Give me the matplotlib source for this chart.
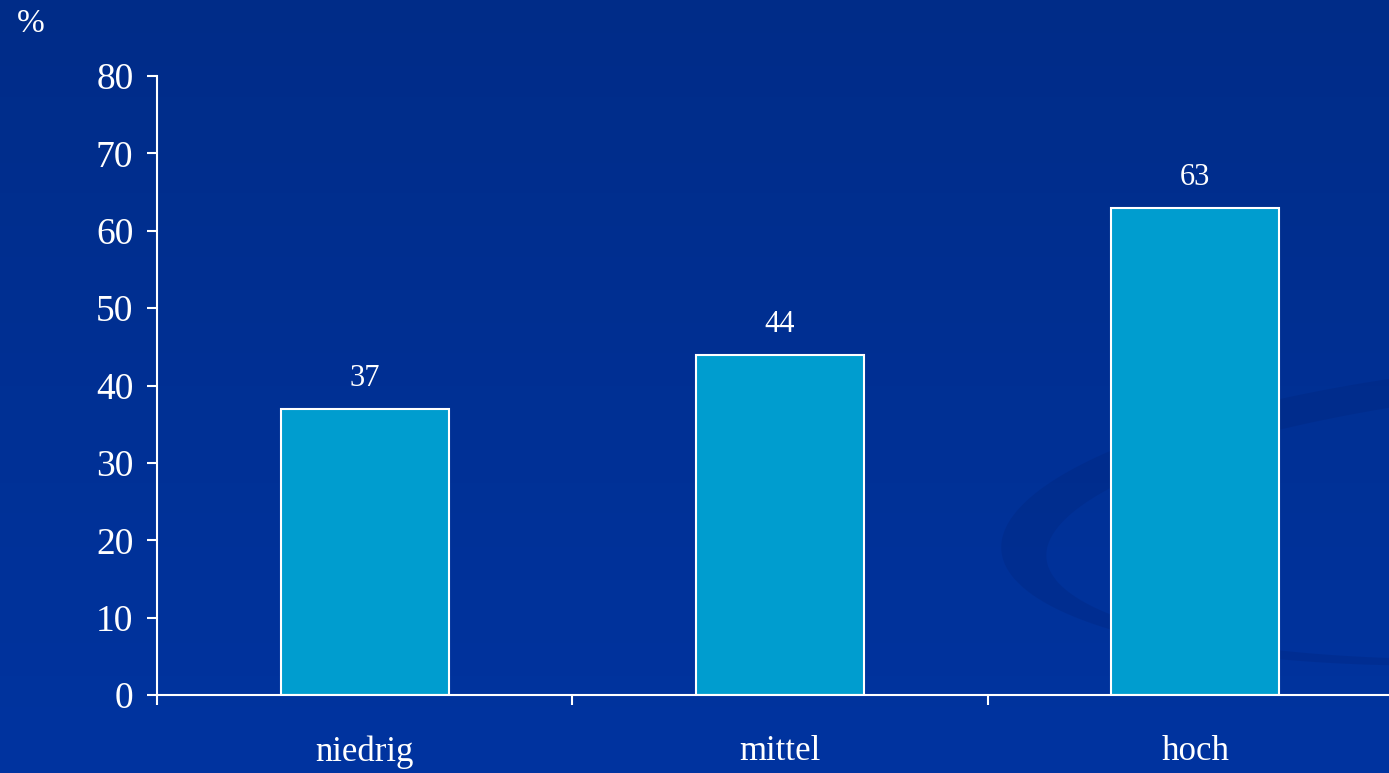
import matplotlib
matplotlib.use('Agg')
import matplotlib.pyplot as plt
import numpy as np
from matplotlib.colors import LinearSegmentedColormap
from matplotlib.path import Path
from matplotlib.patches import PathPatch

plt.rcParams['font.family'] = ['Liberation Serif', 'DejaVu Serif']

# Daten
categories = ['niedrig', 'mittel', 'hoch']
values = [37, 44, 63]
y_ticks = [0, 10, 20, 30, 40, 50, 60, 70, 80]

W, H = 1389, 773
fig = plt.figure(figsize=(W / 100, H / 100), dpi=100)

# Hintergrund mit Verlauf
bg = fig.add_axes([0, 0, 1, 1], zorder=0)
grad = np.linspace(0, 1, 256).reshape(-1, 1)
cmap = LinearSegmentedColormap.from_list('bg', ['#002c88', '#0034a0'])
bg.imshow(grad, aspect='auto', cmap=cmap, extent=[0, W, 0, H], origin='upper')
bg.set_xlim(0, W)
bg.set_ylim(0, H)
bg.axis('off')


# Dekoration: dunkler Bogen rechts
def ellipse_pts(cx, cy, a, b, ang, reverse=False):
    t = np.linspace(0, 2 * np.pi, 400)
    if reverse:
        t = t[::-1]
    r = np.deg2rad(ang)
    x = a * np.cos(t)
    y = b * np.sin(t)
    return np.column_stack([cx + x * np.cos(r) - y * np.sin(r),
                            cy + x * np.sin(r) + y * np.cos(r)])


outer = ellipse_pts(1560, 262, 560, 150, 4)
inner = ellipse_pts(1600, 254, 555, 135, 4, reverse=True)
verts = np.vstack([outer, inner])
codes = ([Path.MOVETO] + [Path.LINETO] * (len(outer) - 2) + [Path.CLOSEPOLY]) * 2
bg.add_patch(PathPatch(Path(verts, codes), facecolor='#001f70', edgecolor='none', alpha=0.22))

# Diagramm
ax = fig.add_axes([157 / W, (H - 695) / H, (1403 - 157) / W, (695 - 76) / H], zorder=1)
ax.patch.set_visible(False)
x = np.arange(len(categories))
ax.bar(x, values, width=0.405, color='#009dcf', edgecolor='white', linewidth=1.5, zorder=2)

for i, v in enumerate(values):
    ax.text(i, v + 2.9, str(v), ha='center', va='baseline', fontsize=22, color='white')

ax.set_xlim(-0.5, 2.5)
ax.set_ylim(0, 80)
ax.set_yticks(y_ticks)
ax.set_xticks(x)
ax.set_xticklabels(categories)
ax.set_xticks([-0.5, 0.5, 1.5, 2.5], minor=True)

for s in ['top', 'right']:
    ax.spines[s].set_visible(False)
for s in ['left', 'bottom']:
    ax.spines[s].set_color('white')
    ax.spines[s].set_linewidth(1.5)

ax.tick_params(axis='y', colors='white', labelsize=27, length=7, width=1.5, pad=10)
ax.tick_params(axis='x', which='major', colors='white', labelsize=25, length=0, pad=29)
ax.tick_params(axis='x', which='minor', colors='white', length=7, width=1.5)

fig.text(17 / W, 1 - 9 / H, '%', ha='left', va='top', fontsize=24, color='white')

fig.savefig('out.png', dpi=100)
